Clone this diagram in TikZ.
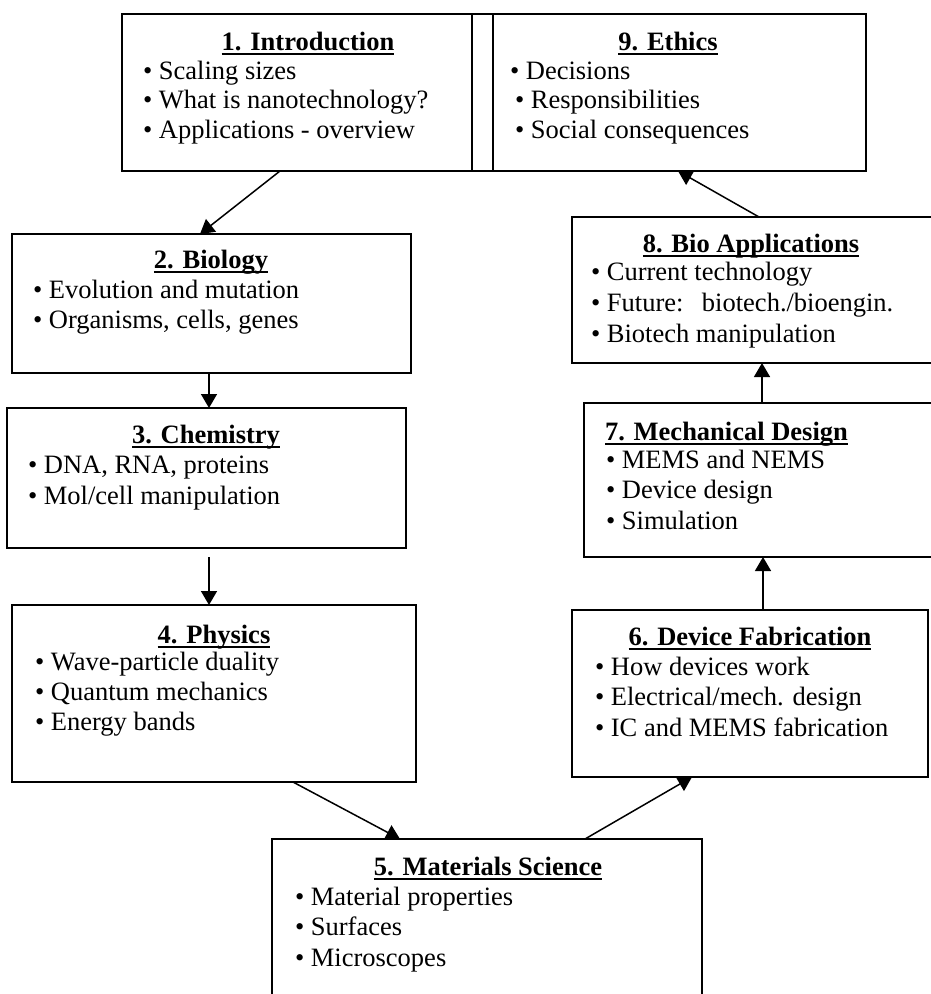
\documentclass[tikz,border=0pt]{standalone}
\usepackage{fontspec}
\setmainfont{Liberation Serif}
\usetikzlibrary{arrows.meta}
\tikzset{
  box/.style={draw, line width=1.8pt, inner sep=0pt, outer sep=0pt},
  ttl/.style={font=\bfseries\fontsize{26.5}{30}\selectfont, inner sep=0pt, outer sep=0pt, anchor=base},
  item/.style={font=\fontsize{26.5}{30}\selectfont, inner sep=0pt, outer sep=0pt, anchor=base west},
  arr/.style={line width=1.5pt, -{Triangle[length=14pt,width=16pt]}},
  ul/.style={line width=2pt}
}
\newcommand\ulttl[1]{\draw[ul] ([yshift=-3.5pt]#1.base west) -- ([yshift=-3.5pt]#1.base east);}
\begin{document}
\begin{tikzpicture}[x=1pt,y=-1pt]
\useasboundingbox (0,0) rectangle (931,994);
\clip (0,0) rectangle (931,994);
% boxes
\node[box, minimum width=350pt, minimum height=157pt] (b1) at (297,92.5) {};
\node[box, minimum width=21pt, minimum height=157pt] (strip) at (482.5,92.5) {};
\node[box, minimum width=373pt, minimum height=157pt] (b9) at (679.5,92.5) {};
\node[box, minimum width=399pt, minimum height=139pt] (b2) at (211.5,303.5) {};
\node[box, minimum width=399pt, minimum height=140pt] (b3) at (206.5,478) {};
\node[box, minimum width=404pt, minimum height=177pt] (b4) at (214,693.5) {};
\node[box, minimum width=430pt, minimum height=171pt] (b5) at (487,924.5) {};
\node[box, minimum width=356pt, minimum height=167pt] (b6) at (750,693.5) {};
\node[box, minimum width=356pt, minimum height=154pt] (b7) at (762,480) {};
\node[box, minimum width=368pt, minimum height=146pt] (b8) at (756,290) {};
% titles
\node[ttl] (t1) at (308,50) {1. Introduction}; \ulttl{t1}
\node[ttl] (t9) at (668,50) {9. Ethics}; \ulttl{t9}
\node[ttl] (t2) at (211,268) {2. Biology}; \ulttl{t2}
\node[ttl] (t3) at (206,443) {3. Chemistry}; \ulttl{t3}
\node[ttl] (t4) at (214,643) {4. Physics}; \ulttl{t4}
\node[ttl] (t5) at (488,875) {5. Materials Science}; \ulttl{t5}
\node[ttl] (t6) at (750,645) {6. Device Fabrication}; \ulttl{t6}
\node[ttl, anchor=base west] (t7) at (605,440) {7. Mechanical Design}; \ulttl{t7}
\node[ttl] (t8) at (751,252) {8. Bio Applications}; \ulttl{t8}
% items
\foreach \t [count=\i] in {Scaling sizes, What is nanotechnology?, Applications - overview}
  \node[item] (i1-\i) at (143,{79+29.5*(\i-1)}) {• \t};
\node[item] (i9-1) at (510,79) {• Decisions};
\node[item] (i9-2) at (515,108.5) {• Responsibilities};
\node[item] (i9-3) at (515,138) {• Social consequences};
\foreach \t [count=\i] in {Evolution and mutation, {Organisms, cells, genes}}
  \node[item] (i2-\i) at (33,{298+30*(\i-1)}) {• \t};
\foreach \t [count=\i] in {{DNA, RNA, proteins}, Mol/cell manipulation}
  \node[item] (i3-\i) at (28,{473+31*(\i-1)}) {• \t};
\foreach \t [count=\i] in {Wave-particle duality, Quantum mechanics, Energy bands}
  \node[item] (i4-\i) at (35,{670+30*(\i-1)}) {• \t};
\foreach \t [count=\i] in {Material properties, Surfaces, Microscopes}
  \node[item] (i5-\i) at (295,{905+30.5*(\i-1)}) {• \t};
\foreach \t [count=\i] in {How devices work, Electrical/mech. design, IC and MEMS fabrication}
  \node[item] (i6-\i) at (595,{675+30.5*(\i-1)}) {• \t};
\foreach \t [count=\i] in {MEMS and NEMS, Device design, Simulation}
  \node[item] (i7-\i) at (606,{468+30.5*(\i-1)}) {• \t};
\node[item] (i8-1) at (591,280) {• Current technology};
\node[item] (i8-2) at (591,311) {• Future:\hspace{0.7em}biotech./bioengin.};
\node[item] (i8-3) at (591,342) {• Biotech manipulation};
% arrows
\draw[arr] ([xshift=-17pt]b1.south) -- ([xshift=-11.5pt]b2.north);
\draw[arr] ([xshift=-2.5pt]b2.south) -- ([xshift=-2.5pt]b2.south |- b3.north);
\draw[arr] ([xshift=2.5pt,yshift=-9pt]b3.south) -- ([xshift=2.5pt]b3.south |- b4.north);
\draw[arr] ([xshift=79pt]b4.south) -- ([xshift=-87pt]b5.north);
\draw[arr] ([xshift=98pt]b5.north) -- ([xshift=-58pt]b6.south);
\draw[arr] ([xshift=13pt]b6.north) -- ([xshift=13pt]b6.north |- b7.south);
\draw[arr] (b7.north) -- (b7.north |- b8.south);
\draw[arr] ([xshift=3pt]b8.north) -- ([xshift=-1.5pt]b9.south);
\end{tikzpicture}
\end{document}
